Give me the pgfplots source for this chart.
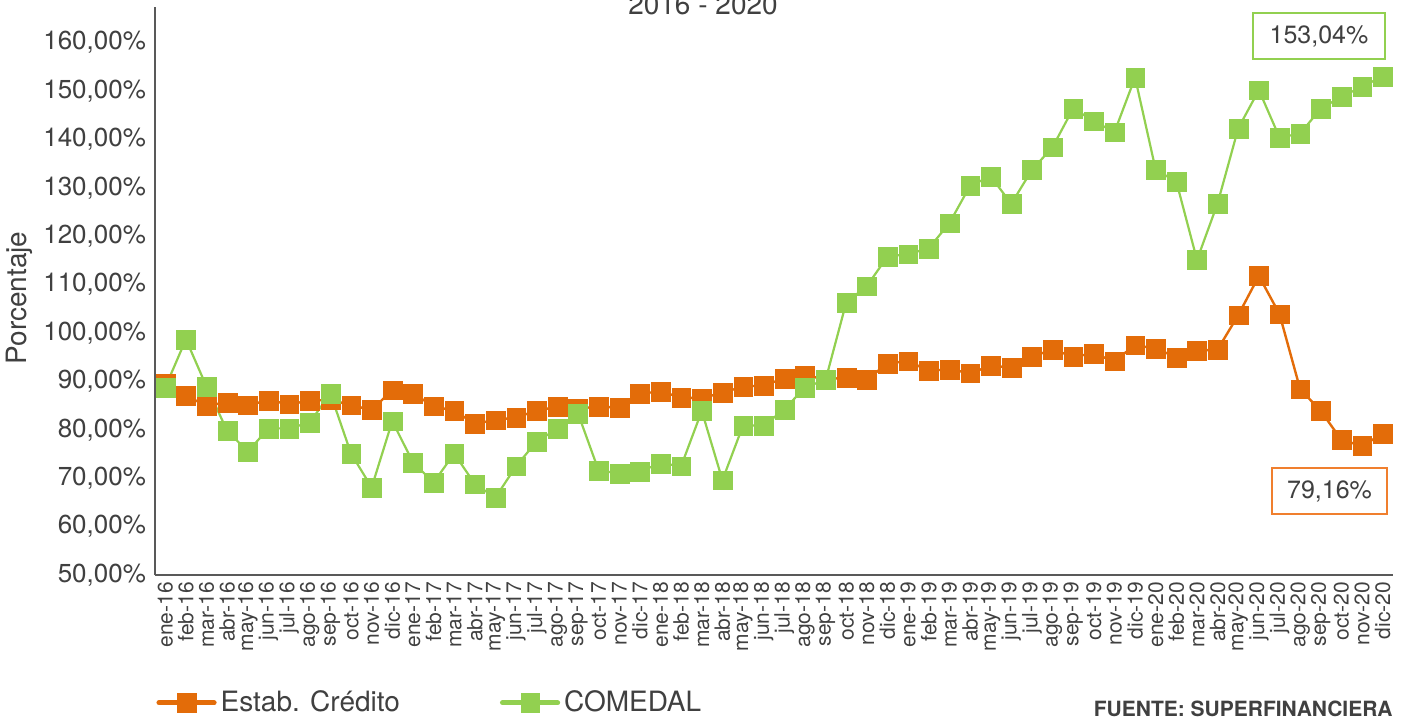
\documentclass[border=0pt]{standalone}
\usepackage{fontspec}
\setmainfont{TeX Gyre Heros}
\usepackage{pgfplots}
\pgfplotsset{compat=1.18}
\definecolor{orng}{HTML}{E36C09}
\definecolor{grn}{HTML}{92D050}
\definecolor{txt}{HTML}{404040}
\definecolor{boxor}{HTML}{F07F2E}
\definecolor{axl}{HTML}{595959}
\begin{document}
\begin{tikzpicture}
\begin{axis}[
  at={(0,0)}, anchor=south west,
  scale only axis, width=619pt, height=284pt,
  xmin=-0.5, xmax=59.5, ymin=50, ymax=167.36,
  axis x line*=bottom, axis y line*=left,
  axis line style={draw=axl, line width=1pt, -},
  major tick length=0pt,
  ytick={50,60,...,160},
  /pgf/number format/.cd, fixed, fixed zerofill, precision=2, use comma, 1000 sep={}, assume math mode=true,
  /pgfplots/.cd,
  yticklabel={\pgfmathprintnumber{\tick}\%},
  yticklabel style={font=\fontsize{13}{15}\selectfont, text=txt, xshift=-1pt},
  xtick={0,...,59},
  xticklabels={ene-16,feb-16,mar-16,abr-16,may-16,jun-16,jul-16,ago-16,sep-16,oct-16,nov-16,dic-16,
               ene-17,feb-17,mar-17,abr-17,may-17,jun-17,jul-17,ago-17,sep-17,oct-17,nov-17,dic-17,
               ene-18,feb-18,mar-18,abr-18,may-18,jun-18,jul-18,ago-18,sep-18,oct-18,nov-18,dic-18,
               ene-19,feb-19,mar-19,abr-19,may-19,jun-19,jul-19,ago-19,sep-19,oct-19,nov-19,dic-19,
               ene-20,feb-20,mar-20,abr-20,may-20,jun-20,jul-20,ago-20,sep-20,oct-20,nov-20,dic-20},
  x tick label style={rotate=90, anchor=east, font=\fontsize{10.5}{12}\selectfont, text=txt},
  legend columns=2,
  legend style={at={(axis description cs:-0.004,-0.225)}, anchor=west, draw=none, fill=none,
                font=\fontsize{14}{16}\selectfont, text=txt,
                /tikz/every even column/.append style={column sep=48pt}},
  legend image code/.code={\draw[mark repeat=2,mark phase=2,#1,line width=2.6pt,line cap=round] plot coordinates {(0pt,0pt) (13.75pt,0pt) (27.5pt,0pt)};},
]
\addplot[orng, line width=1.2pt, mark=square*, mark size=4.7pt, mark options={solid, fill=orng, draw=orng, line width=0.1pt}]
coordinates {(0,89.6)(1,87.0)(2,85.0)(3,85.7)(4,85.1)(5,86.1)(6,85.3)(7,86.0)(8,86.2)(9,85.1)(10,84.1)(11,88.2)
(12,87.5)(13,84.9)(14,83.9)(15,81.3)(16,82.0)(17,82.6)(18,83.9)(19,84.8)(20,84.4)(21,84.8)(22,84.6)(23,87.5)
(24,87.9)(25,86.7)(26,86.5)(27,87.7)(28,88.9)(29,89.2)(30,90.6)(31,91.3)(32,90.4)(33,90.8)(34,90.4)(35,93.7)
(36,94.2)(37,92.2)(38,92.5)(39,91.7)(40,93.2)(41,92.9)(42,95.2)(43,96.5)(44,95.2)(45,95.7)(46,94.2)(47,97.5)
(48,96.8)(49,95.0)(50,96.3)(51,96.6)(52,103.7)(53,111.8)(54,103.9)(55,88.4)(56,83.9)(57,77.9)(58,76.7)(59,79.16)};
\addlegendentry{Estab. Crédito}
\addplot[grn, line width=1.1pt, mark=square*, mark size=4.7pt, mark options={solid, fill=grn, draw=grn, line width=0.1pt}]
coordinates {(0,88.8)(1,98.7)(2,88.9)(3,79.8)(4,75.5)(5,80.3)(6,80.3)(7,81.5)(8,87.5)(9,75.1)(10,68.1)(11,81.8)
(12,73.3)(13,69.1)(14,75.1)(15,68.8)(16,66.0)(17,72.5)(18,77.6)(19,80.2)(20,83.4)(21,71.6)(22,71.0)(23,71.4)
(24,73.1)(25,72.5)(26,83.9)(27,69.6)(28,80.9)(29,80.9)(30,84.2)(31,88.8)(32,90.3)(33,106.3)(34,109.7)(35,115.8)
(36,116.3)(37,117.5)(38,122.7)(39,130.4)(40,132.4)(41,126.7)(42,133.7)(43,138.4)(44,146.4)(45,143.8)(46,141.5)(47,152.8)
(48,133.7)(49,131.3)(50,115.1)(51,126.8)(52,142.3)(53,150.2)(54,140.4)(55,141.2)(56,146.4)(57,148.8)(58,150.9)(59,153.04)};
\addlegendentry{COMEDAL}
\end{axis}
\node[draw=grn, line width=1pt, fill=white, minimum width=66pt, minimum height=23pt, inner sep=0pt, text=txt, font=\fontsize{12.5}{14}\selectfont] at (582pt,269.5pt) {153,04\%};
\node[draw=boxor, line width=1pt, fill=white, minimum width=57.5pt, minimum height=23pt, inner sep=0pt, text=txt, font=\fontsize{12.5}{14}\selectfont] at (587.25pt,42pt) {79,16\%};
\node[anchor=base, font=\fontsize{14}{16}\selectfont, text=txt] at (274pt,280pt) {2016 - 2020};
\node[rotate=90, font=\fontsize{14}{16}\selectfont, text=txt] at (-68pt,138.5pt) {Porcentaje};
\node[anchor=base east, font=\bfseries\fontsize{10.5}{12}\selectfont, text=txt, inner sep=0pt] at (619pt,-70.8pt) {FUENTE: SUPERFINANCIERA};
\pgfresetboundingbox
\path[use as bounding box] (-77.5pt,-72pt) rectangle (623.5pt,287.5pt);
\end{tikzpicture}
\end{document}
